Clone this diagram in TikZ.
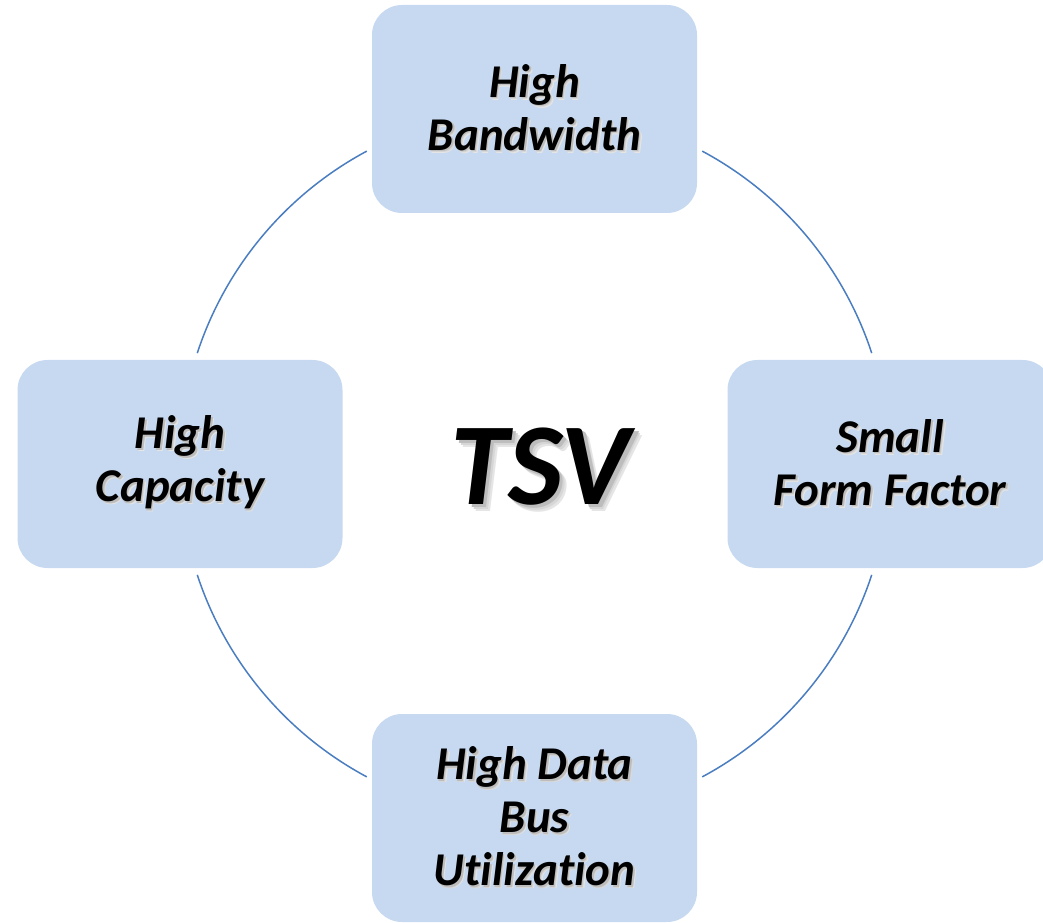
\documentclass[tikz,border=0pt]{standalone}
\usepackage{fontspec}
\setmainfont{Carlito}[Ligatures=NoCommon]
\definecolor{boxblue}{RGB}{198,217,240}
\definecolor{ringblue}{RGB}{74,126,193}
\newcommand{\shlayer}[3]{\rlap{\kern#1em\raisebox{-#1em}{\textcolor{black!#2}{#3}}}}
\newcommand{\shtxt}[1]{\shlayer{0.06}{10}{#1}\shlayer{0.045}{16}{#1}\shlayer{0.03}{26}{#1}#1}
\begin{document}
\begin{tikzpicture}[x=1pt,y=1pt,
  box/.style={fill=boxblue, rounded corners=30pt, minimum width=325pt, minimum height=208pt,
    inner sep=0pt, align=center, font=\fontsize{47}{53}\selectfont\bfseries\itshape},
  ring/.style={draw=ringblue, line width=1.5pt},
  bigtext/.style={font=\fontsize{117}{120}\selectfont\bfseries\itshape, anchor=base, inner sep=0pt}]
\useasboundingbox (0,0) rectangle (1043,922);
\coordinate (c) at (534.5,458);
% ring arcs
\draw[ring] ([shift={(18.2:355)}]c) arc[start angle=18.2, end angle=61.8, radius=355];
\draw[ring] ([shift={(118.2:355)}]c) arc[start angle=118.2, end angle=161.8, radius=355];
\draw[ring] ([shift={(198.2:355)}]c) arc[start angle=198.2, end angle=241.8, radius=355];
\draw[ring] ([shift={(298.2:355)}]c) arc[start angle=298.2, end angle=341.8, radius=355];
% boxes
\node[box] (tb) at (534.5,813) {\shtxt{High}\\\shtxt{Bandwidth}};
\node[box] (lb) at (180,458) {\shtxt{High}\\\shtxt{Capacity}};
\node[box] (rb) at (890,458) {\shtxt{Small}\\\shtxt{Form Factor}};
\node[box] (bb) at (534.5,104) {\shtxt{High Data}\\\shtxt{Bus}\\\shtxt{Utilization}};
% centre label
\node[bigtext] (tsv) at (540,418) {\shtxt{TSV}};
\end{tikzpicture}
\end{document}
